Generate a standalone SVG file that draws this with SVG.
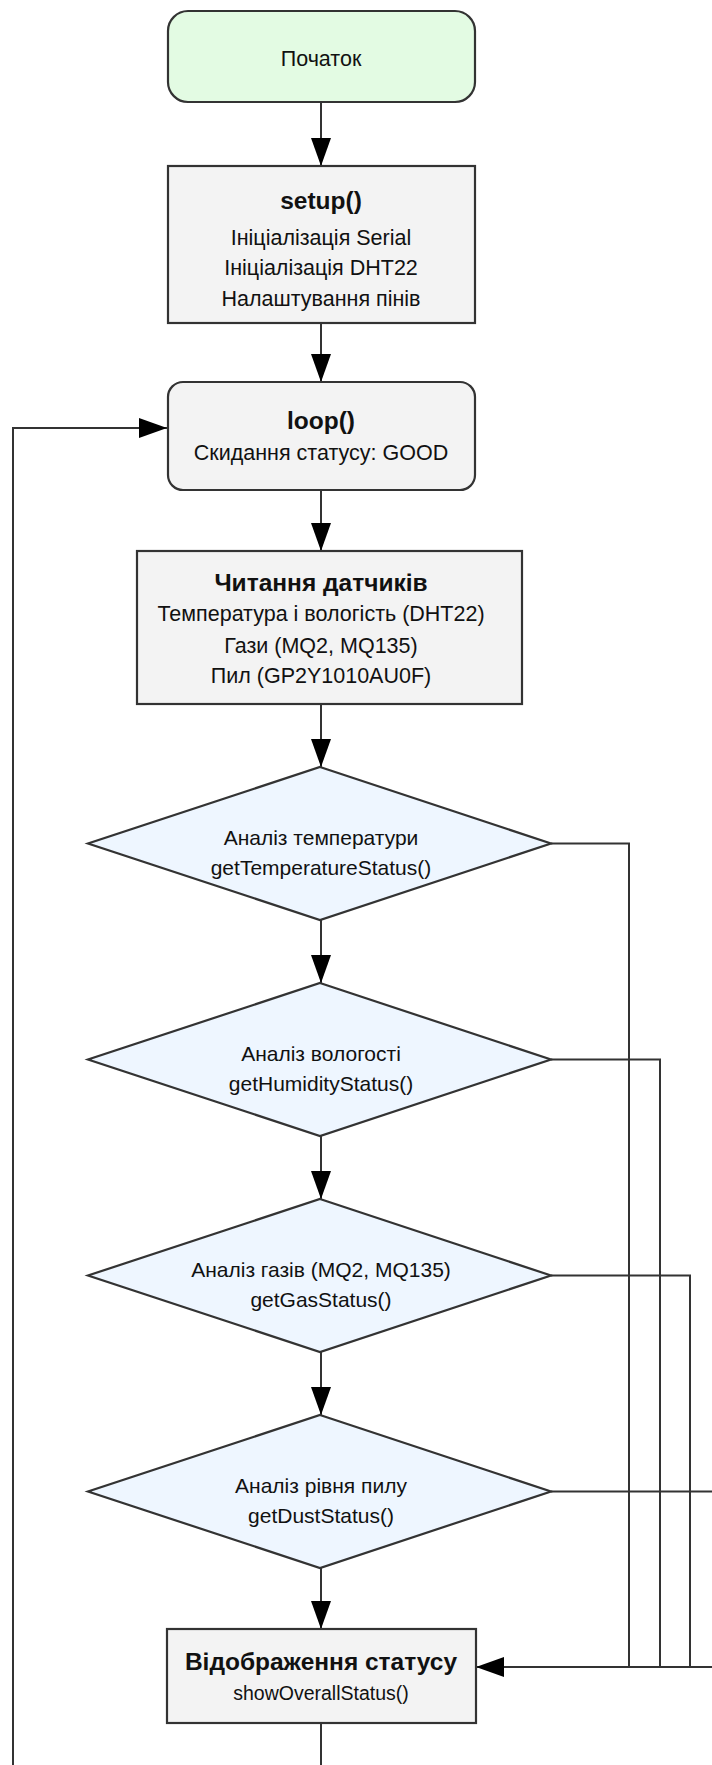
<svg xmlns="http://www.w3.org/2000/svg" width="712" height="1765" viewBox="0 0 712 1765">
<defs>
<style>
.node{stroke:#333;stroke-width:2.2}
.term{fill:#e3fbe3}
.proc{fill:#f3f3f3}
.dec{fill:#eef6ff}
.conn{fill:none;stroke:#333;stroke-width:2}
text{font-family:"Liberation Sans",Arial,sans-serif;fill:#111;text-anchor:middle}
.t{font-size:21.5px}
.b{font-size:24.5px;font-weight:bold}
.s{font-size:21px}
.u{font-size:19.5px}
</style>
<marker id="ah" markerUnits="userSpaceOnUse" markerWidth="28" markerHeight="20" refX="28" refY="10" orient="auto">
<path d="M0,0 L28,10 L0,20 z" fill="#000"/>
</marker>
</defs>
<rect width="712" height="1765" fill="#fff"/>
<g id="connectors">
<path class="conn" d="M321,102 V166" marker-end="url(#ah)"/>
<path class="conn" d="M321,323 V382" marker-end="url(#ah)"/>
<path class="conn" d="M321,490 V551" marker-end="url(#ah)"/>
<path class="conn" d="M321,704 V767" marker-end="url(#ah)"/>
<path class="conn" d="M321,920 V983" marker-end="url(#ah)"/>
<path class="conn" d="M321,1136 V1199" marker-end="url(#ah)"/>
<path class="conn" d="M321,1352 V1415" marker-end="url(#ah)"/>
<path class="conn" d="M321,1568 V1629" marker-end="url(#ah)"/>
<path class="conn" d="M321,1723 V1765"/>
<path class="conn" d="M13,1765 V428 H167" marker-end="url(#ah)"/>
<path class="conn" d="M551,1059.5 H660 V1667 H500"/>
<path class="conn" d="M551,1275.5 H690 V1667 H500"/>
<path class="conn" d="M551,1491.5 H720 V1667 H500"/>
<path class="conn" d="M551,843.5 H629 V1667 H476" marker-end="url(#ah)"/>
</g>
<g id="start">
<rect class="node term" x="168" y="11" width="307" height="91" rx="20"/>
<text class="t" x="321" y="65.5">Початок</text>
</g>
<g id="setup">
<rect class="node proc" x="168" y="166" width="307" height="157"/>
<text class="b" x="321" y="208.5">setup()</text>
<text class="t" x="321" y="244.5">Ініціалізація Serial</text>
<text class="t" x="321" y="274.5">Ініціалізація DHT22</text>
<text class="t" x="321" y="305.5">Налаштування пінів</text>
</g>
<g id="loop">
<rect class="node proc" x="168" y="382" width="307" height="108" rx="15"/>
<text class="b" x="321" y="428.5">loop()</text>
<text class="t" x="321" y="459.5">Скидання статусу: GOOD</text>
</g>
<g id="read">
<rect class="node proc" x="137" y="551" width="385" height="153"/>
<text class="b" x="321" y="590.5">Читання датчиків</text>
<text class="t" x="321" y="620.5">Температура і вологість (DHT22)</text>
<text class="t" x="321" y="652.5">Гази (MQ2, MQ135)</text>
<text class="t" x="321" y="682.5">Пил (GP2Y1010AU0F)</text>
</g>
<g id="temp">
<polygon class="node dec" points="320,767 551,843.5 320,920 88,843.5"/>
<text class="s" x="321" y="844.5">Аналіз температури</text>
<text class="s" x="321" y="875">getTemperatureStatus()</text>
</g>
<g id="hum">
<polygon class="node dec" points="320,983 551,1059.5 320,1136 88,1059.5"/>
<text class="s" x="321" y="1060.5">Аналіз вологості</text>
<text class="s" x="321" y="1091">getHumidityStatus()</text>
</g>
<g id="gas">
<polygon class="node dec" points="320,1199 551,1275.5 320,1352 88,1275.5"/>
<text class="s" x="321" y="1276.5">Аналіз газів (MQ2, MQ135)</text>
<text class="s" x="321" y="1307">getGasStatus()</text>
</g>
<g id="dust">
<polygon class="node dec" points="320,1415 551,1491.5 320,1568 88,1491.5"/>
<text class="s" x="321" y="1492.5">Аналіз рівня пилу</text>
<text class="s" x="321" y="1523">getDustStatus()</text>
</g>
<g id="show">
<rect class="node proc" x="167" y="1629" width="309" height="94"/>
<text class="b" x="321" y="1670">Відображення статусу</text>
<text class="u" x="321" y="1700">showOverallStatus()</text>
</g>
</svg>
